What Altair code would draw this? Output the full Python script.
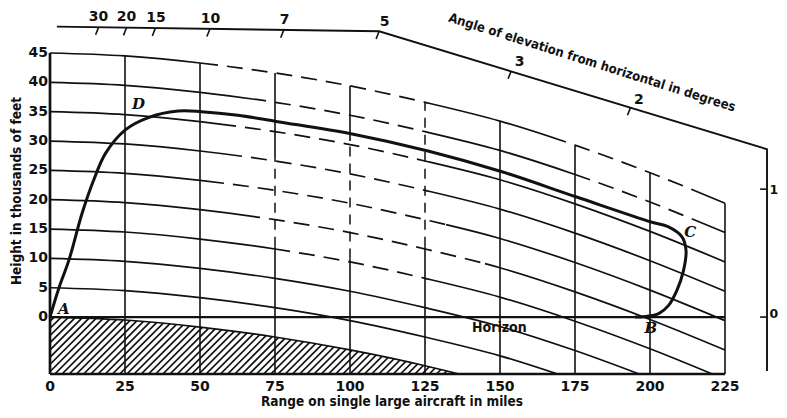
import altair as alt
import numpy as np
import pandas as pd

# ---------------- data ----------------
range_ticks = [0, 25, 50, 75, 100, 125, 150, 175, 200, 225]
height_ticks = [0, 5, 10, 15, 20, 25, 30, 35, 40, 45]

# constant-altitude lines (thousands of feet) at range_ticks
alt_0 = [0, -0.5, -1.7, -3.4, -5.6, -8.3, -11.6, -15.7]
alt_5 = [5, 4.5, 3.3, 1.6, -0.6, -3.4, -6.6, -10.7]
alt_10 = [10, 9.5, 8.3, 6.6, 4.4, 1.6, -1.6, -5.7, -10.4]
alt_15 = [15, 14.5, 13.3, 11.6, 9.4, 6.6, 3.4, -0.7, -5.4, -10.6]
alt_20 = [20, 19.5, 18.3, 16.6, 14.4, 11.6, 8.4, 4.3, -0.4, -5.6]
alt_25 = [25, 24.5, 23.3, 21.6, 19.4, 16.6, 13.4, 9.3, 4.6, -0.6]
alt_30 = [30, 29.5, 28.3, 26.6, 24.4, 21.6, 18.4, 14.3, 9.6, 4.4]
alt_35 = [35, 34.5, 33.3, 31.6, 29.4, 26.6, 23.4, 19.3, 14.6, 9.4]
alt_40 = [40, 39.5, 38.3, 36.6, 34.4, 31.6, 28.4, 24.3, 19.6, 14.4]
alt_45 = [45, 44.5, 43.3, 41.6, 39.4, 36.6, 33.4, 29.3, 24.6, 19.4]

# faded (dashed) stretches of each altitude line, in miles
faded_45 = [(56, 128), (172, 214)]
faded_40 = [(72, 128), (180, 214)]
faded_35 = [(62, 125)]
faded_30 = [(64, 128)]
faded_25 = [(58, 132)]
faded_20 = [(70, 145)]
faded_15 = [(80, 125)]

# faded stretches of vertical grid lines: (range, from height, to height)
grid_faded = [(75, 12, 27), (100, 10, 30), (125, 12, 36.6)]

# coverage diagram A-D-C-B
cover_x = [0, 3, 6.3, 10.7, 14.6, 18.5, 25.1, 32.8, 42.7, 50.5, 62.6, 75.9, 100.7,
           126, 150.4, 175.3, 200.4, 206, 210.6, 212, 211.2, 209, 206.2, 202.9, 198.5, 195]
cover_y = [0, 5, 9.7, 17.7, 23.4, 27.9, 31.9, 34.0, 35.1, 35.0, 34.4, 33.3, 31.2,
           28.3, 24.8, 20.5, 16.2, 15.4, 13.7, 11.4, 8.0, 4.6, 2.0, 0.6, 0.1, 0]

point_labels = ["A", "D", "C", "B"]
point_label_x = [4.6, 29.5, 213.4, 200.3]
point_label_y = [1.3, 36.3, 14.5, -1.9]

# angle-of-elevation scale
angle_labels = ["30", "20", "15", "10", "7", "5", "3", "2", "1", "0"]
angle_tick_x = [16.2, 25.5, 35.1, 53.3, 77.9, 109.7, 153.7, 193.5, 239.0, 239.0]
angle_tick_y = [49.4, 49.3, 49.2, 49.1, 48.9, 48.7, 41.9, 35.7, 21.8, 0]
angle_label_x = [16.2, 25.5, 35.3, 53.5, 78.2, 111.5, 156.5, 196.3, 239.8, 239.8]
angle_label_y = [51.2, 51.2, 50.9, 50.8, 50.6, 50.3, 43.5, 37.0, 21.7, 0.5]
scale_frame_x = [2.3, 109.7, 239.0, 239.0]
scale_frame_y = [49.5, 48.7, 28.6, -9.2]

X_TITLE = "Range on single large aircraft in miles"
Y_TITLE = "Height in thousands of feet"
ANGLE_TITLE = "Angle of elevation from horizontal in degrees"

Y_BOTTOM = -9.7
W, H = 729, 366
SX = 3.0                      # px per mile
X_DOMAIN = [0, W / SX]
Y_DOMAIN = [Y_BOTTOM, 52.67]
SY = H / (Y_DOMAIN[1] - Y_DOMAIN[0])

BOLD_FONT = "DejaVu Sans"
TITLE_FONT = "DejaVu Sans Condensed, Liberation Sans Narrow, DejaVu Sans"
SERIF = "DejaVu Serif"
INK = "#111111"

XS = alt.Scale(domain=X_DOMAIN, nice=False, zero=False)
YS = alt.Scale(domain=Y_DOMAIN, nice=False, zero=False)


def X(f="x"):
    return alt.X(f"{f}:Q", scale=XS, axis=None)


def Y(f="y"):
    return alt.Y(f"{f}:Q", scale=YS, axis=None)


def px_x(p):   # page pixel -> miles (used only to place guide text)
    return (p - 50) / SX


def px_y(p):
    return (317 - p) / SY


def dash_for(xs, ys, spans, on=16.0, off=9.0):
    xs = np.asarray(xs, float)
    ys = np.asarray(ys, float)
    seg = np.hypot(np.diff(xs) * SX, np.diff(ys) * SY)
    cum = np.concatenate([[0.0], np.cumsum(seg)])
    pieces = []
    pos = 0.0
    for a, b in spans:
        la = float(np.interp(a, xs, cum))
        lb = float(np.interp(b, xs, cum))
        pieces.append([1, la - pos])
        p, state = la, 0
        while p < lb - 1e-6:
            L = min(off if state == 0 else on, lb - p)
            pieces.append([state, L])
            p += L
            state = 1 - state
        pos = lb
    pieces.append([1, cum[-1] - pos + 100])
    merged = []
    for s, L in pieces:
        if merged and merged[-1][0] == s:
            merged[-1][1] += L
        else:
            merged.append([s, L])
    arr = [round(L, 1) for s, L in merged]
    if len(arr) % 2:
        arr.append(0)
    return arr


layers = []

# hatch texture under the earth's curve
hatch_x0 = np.arange(-20.0, 134.0, 7.2 / SX)
hatch_dx = (0 - Y_BOTTOM) * SY / SX
hatch = pd.DataFrame({"x": hatch_x0, "y": Y_BOTTOM, "x2": hatch_x0 + hatch_dx, "y2": 0.0})
layers.append(alt.Chart(hatch).mark_rule(clip=True, strokeWidth=1.7, color=INK).encode(
    x=X(), y=Y(), x2="x2:Q", y2="y2:Q"))

# white cover above the earth curve (keeps hatch below it)
earth = pd.DataFrame({"x": range_ticks[:len(alt_0)], "y": alt_0, "y2": 0.0})
layers.append(alt.Chart(earth).mark_area(clip=True, color="white", interpolate="monotone").encode(
    x=X(), y=Y(), y2="y2:Q"))

# vertical grid lines
grid_rows = []
faded_dict = {g[0]: g for g in grid_faded}
for xv, top in zip(range_ticks[1:], alt_45[1:]):
    if xv in faded_dict:
        _, a, b = faded_dict[xv]
        grid_rows.append((xv, Y_BOTTOM, a))
        if top > b:
            grid_rows.append((xv, b, top))
    else:
        grid_rows.append((xv, Y_BOTTOM, top))
grid_solid = pd.DataFrame(grid_rows, columns=["x", "y", "y2"])
layers.append(alt.Chart(grid_solid).mark_rule(strokeWidth=1.6, color=INK).encode(
    x=X(), y=Y(), y2="y2:Q"))

grid_d = pd.DataFrame(grid_faded, columns=["x", "y", "y2"])
layers.append(alt.Chart(grid_d).mark_rule(strokeWidth=1.5, color=INK, strokeDash=[10, 7]).encode(
    x=X(), y=Y(), y2="y2:Q"))

# altitude lines
alt_lines = [(alt_0, []), (alt_5, []), (alt_10, []), (alt_15, faded_15), (alt_20, faded_20),
             (alt_25, faded_25), (alt_30, faded_30), (alt_35, faded_35), (alt_40, faded_40),
             (alt_45, faded_45)]
for vals, spans in alt_lines:
    xs = range_ticks[:len(vals)]
    df = pd.DataFrame({"x": xs, "y": vals})
    kw = dict(clip=True, strokeWidth=1.7, color=INK, interpolate="monotone")
    if spans:
        kw["strokeDash"] = dash_for(xs, vals, spans)
    layers.append(alt.Chart(df).mark_line(**kw).encode(x=X(), y=Y()))

# horizon and bottom frame, left frame
frame_h = pd.DataFrame({"x": [0, 0], "x2": [225, 225], "y": [0, Y_BOTTOM]})
layers.append(alt.Chart(frame_h).mark_rule(strokeWidth=2.3, color=INK).encode(
    x=X(), x2="x2:Q", y=Y()))
frame_v = pd.DataFrame({"x": [0], "y": [Y_BOTTOM], "y2": [45]})
layers.append(alt.Chart(frame_v).mark_rule(strokeWidth=2.7, color=INK).encode(
    x=X(), y=Y(), y2="y2:Q"))

# coverage curve
cover = pd.DataFrame({"x": cover_x, "y": cover_y, "o": range(len(cover_x))})
layers.append(alt.Chart(cover).mark_line(strokeWidth=3, color=INK, interpolate="catmull-rom").encode(
    x=X(), y=Y(), order="o:Q"))

# angle scale frame
sf = pd.DataFrame({"x": scale_frame_x, "y": scale_frame_y, "o": range(len(scale_frame_x))})
layers.append(alt.Chart(sf).mark_line(strokeWidth=1.9, color=INK).encode(
    x=X(), y=Y(), order="o:Q"))

# angle ticks: slanted on top, horizontal on the right side
tick_x2 = [x - (2.3 if x > 238 else 1.0) for x in angle_tick_x]
tick_y2 = [y - (0.0 if x > 238 else 1.3) for x, y in zip(angle_tick_x, angle_tick_y)]
ticks = pd.DataFrame({"x": angle_tick_x, "y": angle_tick_y, "x2": tick_x2, "y2": tick_y2})
layers.append(alt.Chart(ticks).mark_rule(strokeWidth=1.6, color=INK).encode(
    x=X(), y=Y(), x2="x2:Q", y2="y2:Q"))

angle_df = pd.DataFrame({"x": angle_label_x, "y": angle_label_y, "t": angle_labels,
                         "a": ["center"] * 8 + ["left"] * 2})
top_lab = angle_df[angle_df.a == "center"]
side_lab = angle_df[angle_df.a == "left"]
layers.append(alt.Chart(top_lab).mark_text(font=BOLD_FONT, fontSize=14, fontWeight="bold",
                                           color=INK, align="center", baseline="middle").encode(
    x=X(), y=Y(), text="t:N"))
layers.append(alt.Chart(side_lab).mark_text(font=BOLD_FONT, fontSize=12.5, fontWeight="bold",
                                            color=INK, align="left", baseline="middle").encode(
    x=X(), y=Y(), text="t:N"))

angle_title = pd.DataFrame({"x": [px_x(592)], "y": [px_y(62.5)], "t": [ANGLE_TITLE]})
layers.append(alt.Chart(angle_title).mark_text(font=TITLE_FONT, fontSize=13, fontWeight="bold",
                                               color=INK, align="center", baseline="middle",
                                               angle=17.5).encode(
    x=X(), y=Y(), text="t:N"))

pts = pd.DataFrame({"x": point_label_x, "y": point_label_y, "t": point_labels})
layers.append(alt.Chart(pts).mark_text(font=SERIF, fontSize=15, fontWeight="bold", fontStyle="italic",
                                       color=INK, align="center", baseline="middle").encode(
    x=X(), y=Y(), text="t:N"))

horizon = pd.DataFrame({"x": [149.8], "y": [-1.8], "t": ["Horizon"]})
layers.append(alt.Chart(horizon).mark_text(font=TITLE_FONT, fontSize=14, fontWeight="bold",
                                           color=INK, align="center", baseline="middle").encode(
    x=X(), y=Y(), text="t:N"))

# axis tick labels and titles (drawn as text on the same scales)
xlab = pd.DataFrame({"x": range_ticks, "y": px_y(387), "t": [str(v) for v in range_ticks]})
layers.append(alt.Chart(xlab).mark_text(font=BOLD_FONT, fontSize=14, fontWeight="bold",
                                        color=INK, align="center", baseline="middle").encode(
    x=X(), y=Y(), text="t:N"))
ylab = pd.DataFrame({"x": px_x(48), "y": height_ticks, "t": [str(v) for v in height_ticks]})
layers.append(alt.Chart(ylab).mark_text(font=BOLD_FONT, fontSize=14, fontWeight="bold",
                                        color=INK, align="right", baseline="middle").encode(
    x=X(), y=Y(), text="t:N"))
xt = pd.DataFrame({"x": [px_x(392)], "y": [px_y(402)], "t": [X_TITLE]})
layers.append(alt.Chart(xt).mark_text(font=TITLE_FONT, fontSize=13.5, fontWeight="bold",
                                      color=INK, align="center", baseline="middle").encode(
    x=X(), y=Y(), text="t:N"))
yt = pd.DataFrame({"x": [px_x(17)], "y": [px_y(191)], "t": [Y_TITLE]})
layers.append(alt.Chart(yt).mark_text(font=TITLE_FONT, fontSize=13.5, fontWeight="bold",
                                      color=INK, align="center", baseline="middle",
                                      angle=270).encode(
    x=X(), y=Y(), text="t:N"))

chart = alt.layer(*layers).properties(
    width=W, height=H,
    autosize=alt.AutoSizeParams(type="none"),
    padding={"left": 42, "top": 0, "right": 0, "bottom": 36},
    background="white",
).configure_view(stroke=None)

chart.save("out.html", embed_options={"renderer": "svg", "actions": False})
